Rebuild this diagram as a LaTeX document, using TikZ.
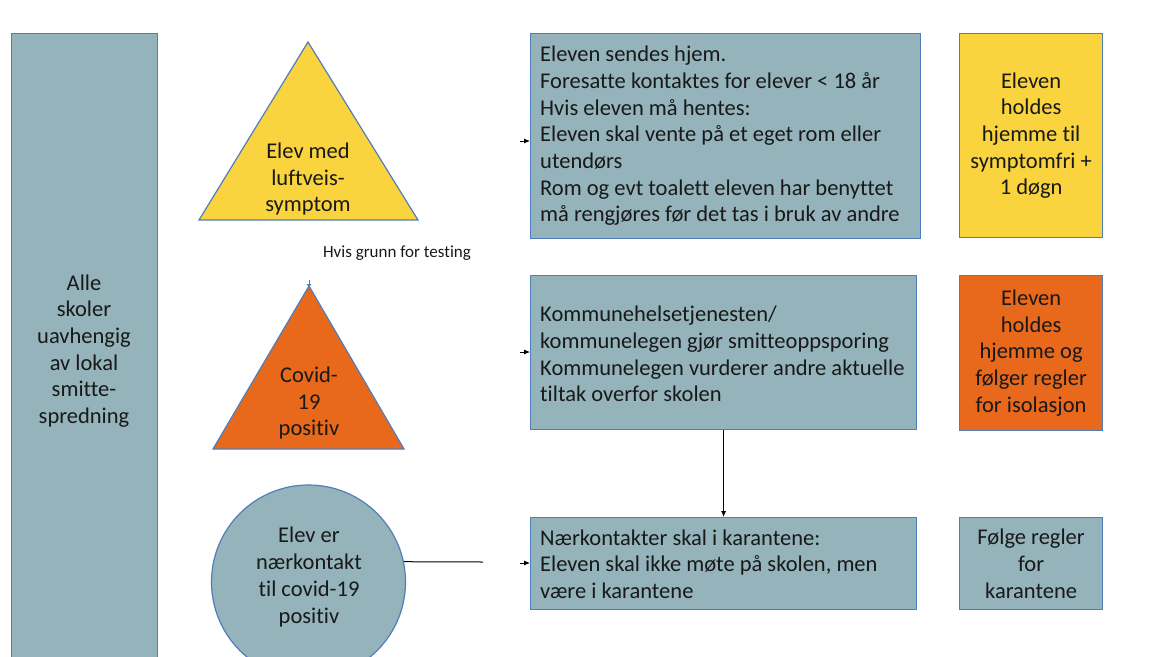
\documentclass[tikz,border=0pt]{standalone}
\usepackage{fontspec}
\setmainfont{Carlito}[Ligatures={NoCommon}]
\usetikzlibrary{arrows.meta}
\definecolor{bg}{RGB}{148,179,187}
\definecolor{bd}{RGB}{80,126,186}
\definecolor{yel}{RGB}{249,212,62}
\definecolor{org}{RGB}{232,104,28}
\definecolor{ink}{RGB}{25,25,25}
\begin{document}
\begin{tikzpicture}[x=1pt,y=-1pt,
  shp/.style={draw=bd, line width=1.2pt},
  box/.style={shp, fill=bg, rectangle, inner sep=0pt, anchor=north west},
  txt/.style={text=ink, font=\fontsize{22.5}{26.7}\selectfont, inner sep=0pt},
  ltxt/.style={txt, align=left, anchor=west},
  ctxt/.style={txt, align=center},
  tip/.style={-{Latex[length=6pt,width=5pt]}, line width=0.8pt, black},
]
\useasboundingbox (0,0) rectangle (1164,656);
\clip (0,0) rectangle (1164,656);
\fill[white] (0,0) rectangle (1164,656);

% left column
\node[box, minimum width=146, minimum height=700] (alle) at (11,33) {};
\node[ctxt] (allet) at (84,351) {Alle\\skoler\\uavhengig\\av lokal\\smitte-\\spredning};

% triangles
\draw[shp, fill=yel] (199,220) -- (308,42) -- (418,220) -- cycle;
\node[ctxt] (tri1) at (308,179) {Elev med\\luftveis-\\symptom};
\draw[shp, fill=org] (213,449) -- (309,286) -- (404,449) -- cycle;
\node[ctxt] (tri2) at (309,403) {Covid-\\19\\positiv};
\coordinate (tk) at (309,280);
\coordinate (tk2) at (309,287);
\draw[bd, line width=0.8pt, -{Triangle[length=3pt,width=5pt]}] (tk) -- (tk2);
\node[txt, font=\fontsize{17}{20}\selectfont] (hvis) at (397,253) {Hvis grunn for testing};

% circle
\node[shp, fill=bg, circle, minimum size=194, inner sep=0pt] (circ) at (308.5,582) {};
\node[ctxt] (circt) at (309,577) {Elev er\\nærkontakt\\til covid-19\\positiv};

% middle boxes
\node[box, minimum width=390, minimum height=205] (b1) at (530,33) {};
\node[ltxt] (b1t) at (540,136) {Eleven sendes hjem.\\Foresatte kontaktes for elever < 18 år\\Hvis eleven må hentes:\\Eleven skal vente på et eget rom eller\\utendørs\\Rom og evt toalett eleven har benyttet\\må rengjøres før det tas i bruk av andre};
\node[box, minimum width=386, minimum height=154] (b2) at (530,275) {};
\node[ltxt] (b2t) at (540,354) {Kommunehelsetjenesten/\\kommunelegen gjør smitteoppsporing\\Kommunelegen vurderer andre aktuelle\\tiltak overfor skolen};
\node[box, minimum width=386, minimum height=92] (b3) at (530,517) {};
\node[ltxt] (b3t) at (540,564) {Nærkontakter skal i karantene:\\Eleven skal ikke møte på skolen, men\\være i karantene};

% right boxes
\node[box, fill=yel, minimum width=143, minimum height=204, txt, align=center] (r1) at (959,33) {Eleven\\holdes\\hjemme til\\symptomfri +\\1 døgn};
\node[box, fill=org, minimum width=143, minimum height=155, txt, align=center] (r2) at (959,275) {Eleven\\holdes\\hjemme og\\følger regler\\for isolasjon};
\node[box, minimum width=143, minimum height=92, txt, align=center] (r3) at (959,517) {Følge regler\\for\\karantene};

% connectors
\draw[tip] (b2) -- (b3);
\coordinate (cend) at (483,562);
\draw[line width=1pt, black] (circ.12) -- (cend);
\coordinate (a1) at (520,141);
\coordinate (a2) at (520,352);
\coordinate (a3) at (520,563);
\draw[tip] (a1) -- (b1.west |- a1);
\draw[tip] (a2) -- (b2.west |- a2);
\draw[tip] (a3) -- (b3.west |- a3);
\end{tikzpicture}
\end{document}
